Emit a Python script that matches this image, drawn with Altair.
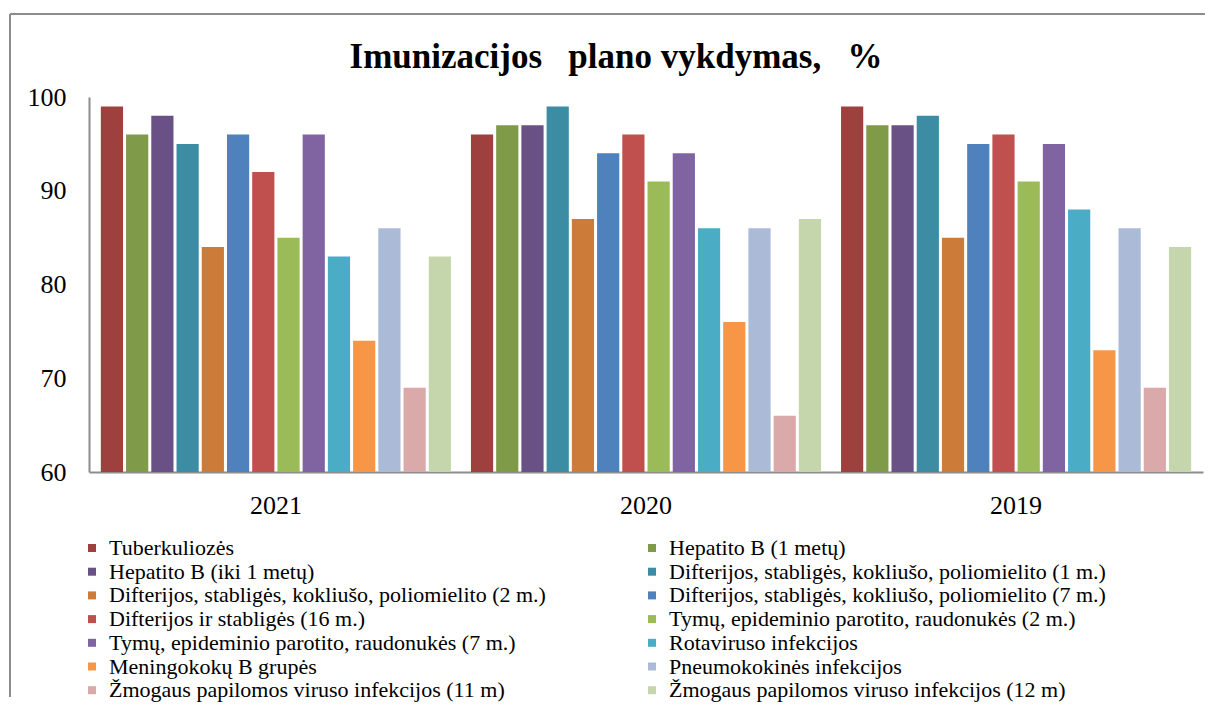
import altair as alt
import pandas as pd

years = ["2021", "2020", "2019"]
series = [
    "Tuberkuliozės",
    "Hepatito B (1 metų)",
    "Hepatito B (iki 1 metų)",
    "Difterijos, stabligės, kokliušo, poliomielito (1 m.)",
    "Difterijos, stabligės, kokliušo, poliomielito (2 m.)",
    "Difterijos, stabligės, kokliušo, poliomielito (7 m.)",
    "Difterijos ir stabligės (16 m.)",
    "Tymų, epideminio parotito, raudonukės (2 m.)",
    "Tymų, epideminio parotito, raudonukės (7 m.)",
    "Rotaviruso infekcijos",
    "Meningokokų B grupės",
    "Pneumokokinės infekcijos",
    "Žmogaus papilomos viruso infekcijos (11 m)",
    "Žmogaus papilomos viruso infekcijos (12 m)",
]
colors = [
    "#9E413E", "#7F9A48", "#695185", "#3C8DA3", "#CC7B38", "#4F81BD", "#C0504D",
    "#9BBB59", "#8064A2", "#4BACC6", "#F79646", "#AABAD7", "#D9AAA9", "#C6D6AC",
]
v2021 = [99, 96, 98, 95, 84, 96, 92, 85, 96, 83, 74, 86, 69, 83]
v2020 = [96, 97, 97, 99, 87, 94, 96, 91, 94, 86, 76, 86, 66, 87]
v2019 = [99, 97, 97, 98, 85, 95, 96, 91, 95, 88, 73, 86, 69, 84]
y_ticks = [60, 70, 80, 90, 100]
title_text = "Imunizacijos\u00a0\u00a0 plano vykdymas,\u00a0\u00a0 %"

rows = []
for yr, vals in zip(years, [v2021, v2020, v2019]):
    for s, v in zip(series, vals):
        rows.append({"year": yr, "series": s, "value": v})
df = pd.DataFrame(rows)

FONT = "Liberation Serif"
AXIS_GRAY = "#8c8c8c"

bars = alt.Chart(df).mark_bar().encode(
    x=alt.X(
        "year:N", sort=years, title=None,
        scale=alt.Scale(paddingInner=0.054, paddingOuter=0.032),
        axis=alt.Axis(labelAngle=0, ticks=False, domainColor=AXIS_GRAY, domainWidth=2,
                      labelFont=FONT, labelFontSize=26, labelPadding=20, labelColor="#000000"),
    ),
    xOffset=alt.XOffset("series:N", sort=series,
                        scale=alt.Scale(paddingInner=0.12, paddingOuter=0)),
    y=alt.Y(
        "value:Q", title=None,
        scale=alt.Scale(domain=[60, 100], zero=False, nice=False),
        axis=alt.Axis(values=y_ticks, grid=False, ticks=False, domainColor=AXIS_GRAY,
                      domainWidth=2, labelFont=FONT, labelFontSize=26, labelPadding=23,
                      labelColor="#000000"),
    ),
    y2=alt.datum(60),
    color=alt.Color(
        "series:N", sort=series,
        scale=alt.Scale(domain=series, range=colors),
        legend=alt.Legend(
            title=None, orient="none", direction="horizontal", legendX=-8, legendY=440,
            columns=2, columnPadding=95, rowPadding=1.7, symbolType="square",
            symbolSize=64, symbolStrokeWidth=0, labelFont=FONT, labelFontSize=22,
            labelLimit=0, labelOffset=6, labelColor="#000000", padding=0,
        ),
    ),
)

frame_df = pd.DataFrame({"k": [0]})
left_line = alt.Chart(frame_df).mark_rule(color=AXIS_GRAY, strokeWidth=2).encode(
    x=alt.value(-79), y=alt.value(-83), y2=alt.value(600)
)
top_line = alt.Chart(frame_df).mark_rule(color=AXIS_GRAY, strokeWidth=2).encode(
    x=alt.value(-79), x2=alt.value(1116), y=alt.value(-83)
)

chart = alt.layer(bars, left_line, top_line).properties(
    width=1114, height=375,
    padding={"left": 1, "top": 5, "right": 0, "bottom": 0},
    title=alt.TitleParams(title_text, font=FONT, fontSize=35, fontWeight="bold",
                          anchor="middle", dx=-30, offset=-62, color="#000000"),
).configure_view(strokeWidth=0).configure_legend(labelFont=FONT)

chart.save("out.html", embed_options={"renderer": "svg", "actions": False})
